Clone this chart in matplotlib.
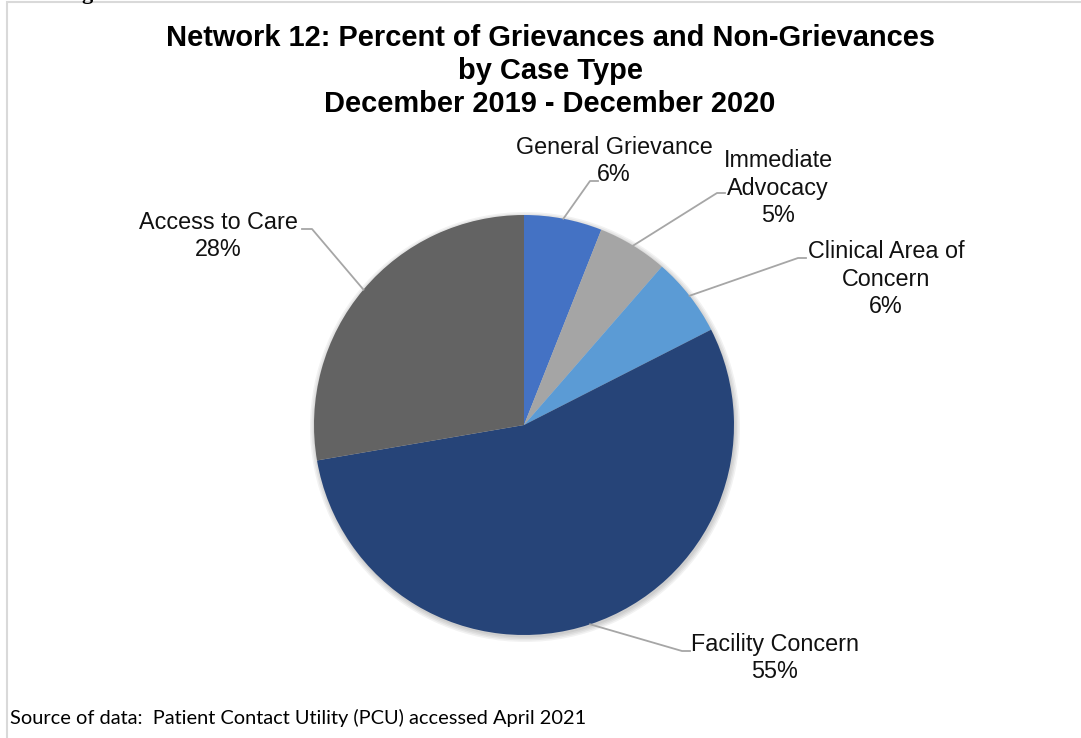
import matplotlib
matplotlib.use("Agg")
import numpy as np
import matplotlib.pyplot as plt
from matplotlib.patches import Rectangle, Circle

# data
categories = ["General Grievance", "Immediate\nAdvocacy", "Clinical Area of\nConcern",
              "Facility Concern", "Access to Care"]
percents = [6.0, 5.4, 6.1, 54.8, 27.7]
pct_labels = ["6%", "5%", "6%", "55%", "28%"]
colors = ["#4472C4", "#A5A5A5", "#5B9BD5", "#264478", "#636363"]

title = ("Network 12: Percent of Grievances and Non-Grievances\n"
         "by Case Type\nDecember 2019 - December 2020")
source = "Source of data:  Patient Contact Utility (PCU) accessed April 2021"

W, H = 1081, 738
fig = plt.figure(figsize=(W / 100, H / 100), dpi=100)
ax = fig.add_axes([0, 0, 1, 1])

cx, cy, r = 524, H - 425, 210

# soft shadow under the pie
for k in range(4):
    ax.add_patch(Circle((cx + 1, cy - 2), r + 5 - k * 1.5, color="black", alpha=0.05, lw=0, zorder=1))

wedges, _ = ax.pie(percents, colors=colors, startangle=90, counterclock=False,
                   center=(cx, cy), radius=r, wedgeprops=dict(linewidth=0))
for w in wedges:
    w.set_zorder(2)

ax.set_xlim(0, W)
ax.set_ylim(0, H)
ax.set_aspect("equal")
ax.axis("off")

# label layout (text centre, elbow point, end of short horizontal)
text_pos = [(614, 161), (778, 188), (886, 279), (775, 658), (218, 236)]
elbows = [(590, 181), (717, 193), (798, 258), (682, 651), (312, 229)]
ends = [(598, 181), (725, 193), (806, 258), (690, 651), (302, 229)]

cum = np.cumsum([0] + percents)
for i, name in enumerate(categories):
    mid = (cum[i] + cum[i + 1]) / 2 / 100 * 2 * np.pi
    px = cx + r * np.sin(mid)
    py = cy + r * np.cos(mid)
    ex, ey = elbows[i]
    fx, fy = ends[i]
    ax.plot([px, ex, fx], [py, H - ey, H - fy], color="#A6A6A6", lw=1.3, zorder=3)
    tx, ty = text_pos[i]
    ax.text(tx, H - ty, name + "\n" + pct_labels[i], ha="center", va="center",
            fontsize=16.8, family="Liberation Sans", color="#111111", linespacing=1.24)

ax.text(550, H - 71, title, ha="center", va="center", fontsize=20.9, fontweight="bold",
        family="Liberation Sans", color="black", linespacing=1.25)

fig.text(10 / W, 1 - 718 / H, source, ha="left", va="center", fontsize=14.4,
         family="Lato", color="black")

# cut-off caption glyph above the chart
fig.text(87 / W, 1 + 1 / H, "g", ha="center", va="baseline", fontsize=16,
         fontweight="bold", family="Liberation Serif", color="black")

# frame lines of the pasted chart
fig.add_artist(Rectangle((7 / W, -0.01), 1.02, 1 - 2 / H + 0.01, transform=fig.transFigure,
                         fill=False, edgecolor="#D9D9D9", lw=1.5))

fig.savefig("out.png", dpi=100)
